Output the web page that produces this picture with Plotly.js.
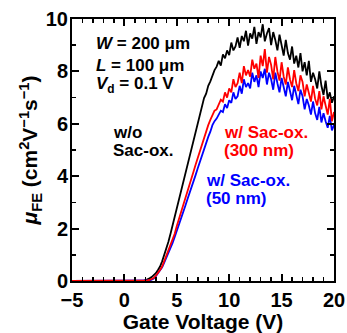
<!DOCTYPE html>
<html>
<head>
<meta charset="utf-8">
<script src="https://cdn.plot.ly/plotly-3.0.1.min.js"></script>
<style>html,body{margin:0;padding:0;background:#fff;}#chart{width:347px;height:333px;}</style>
</head>
<body>
<div id="chart"></div>
<script>
// Gate voltage sweep: -5 V to 20 V in 0.2 V steps (rows below = one volt each: x.0, x.2, x.4, x.6, x.8)
const sweepStart = -5;
const sweepStep = 0.2;

// μFE (cm²V⁻¹s⁻¹), w/o Sac-ox.
const muWithout = [
  0,0,0,0,0, 0,0,0,0,0, 0,0,0,0,0, 0,0,0,0,0, 0,0,0,0,0, 0,0,0,0,0, 0,0,0,0,0, // -5 .. 1.8
  0.03, 0.06, 0.10, 0.15, 0.22,   // 2
  0.30, 0.42, 0.55, 0.75, 0.98,   // 3
  1.22, 1.50, 1.80, 2.12, 2.50,   // 4
  2.85, 3.15, 3.45, 3.75, 4.10,   // 5
  4.40, 4.72, 5.05, 5.35, 5.70,   // 6
  6.00, 6.35, 6.60, 6.98, 7.15,   // 7
  7.45, 7.62, 7.88, 8.05, 8.18,   // 8
  8.40, 8.22, 8.65, 8.50, 8.80,   // 9
  8.62, 9.10, 8.80, 8.95, 9.30,   // 10
  8.90, 9.35, 9.15, 9.55, 8.98,   // 11
  9.45, 9.25, 9.70, 9.05, 9.50,   // 12
  9.30, 9.80, 9.15, 9.45, 9.65,   // 13
  9.00, 9.50, 9.20, 8.80, 9.40,   // 14
  8.95, 8.60, 9.20, 8.70, 8.45,   // 15
  8.95, 8.30, 8.60, 8.15, 8.70,   // 16
  8.00, 8.35, 7.85, 8.40, 7.60,   // 17
  7.95, 7.70, 7.35, 8.00, 7.45,   // 18
  7.10, 7.65, 6.95, 7.20, 6.80,   // 19
  7.05                            // 20
];

// μFE, w/ Sac-ox. (300 nm)
const muSac300 = [
  0,0,0,0,0, 0,0,0,0,0, 0,0,0,0,0, 0,0,0,0,0, 0,0,0,0,0, 0,0,0,0,0, 0,0,0,0,0,
  0.00, 0.02, 0.04, 0.07, 0.11,   // 2
  0.20, 0.30, 0.42, 0.55, 0.75,   // 3
  0.95, 1.15, 1.35, 1.55, 1.80,   // 4
  2.10, 2.35, 2.60, 2.88, 3.12,   // 5
  3.40, 3.65, 3.92, 4.18, 4.45,   // 6
  4.70, 4.98, 5.22, 5.50, 5.75,   // 7
  5.95, 6.15, 6.30, 6.50, 6.55,   // 8
  6.75, 6.92, 6.85, 7.20, 7.00,   // 9
  7.35, 7.20, 7.70, 7.40, 7.55,   // 10
  7.95, 7.55, 8.20, 7.85, 8.05,   // 11
  7.80, 8.45, 8.10, 8.30, 7.75,   // 12
  8.60, 8.20, 8.85, 7.95, 8.55,   // 13
  8.25, 7.70, 8.55, 8.00, 7.65,   // 14
  8.35, 7.80, 7.50, 8.15, 7.70,   // 15
  7.40, 8.05, 7.55, 7.25, 7.85,   // 16
  7.60, 7.05, 7.50, 7.20, 6.85,   // 17
  7.45, 6.95, 6.70, 7.25, 6.55,   // 18
  7.05, 6.70, 6.35, 6.95, 6.10,   // 19
  6.45                            // 20
];

// μFE, w/ Sac-ox. (50 nm)
const muSac50 = [
  0,0,0,0,0, 0,0,0,0,0, 0,0,0,0,0, 0,0,0,0,0, 0,0,0,0,0, 0,0,0,0,0, 0,0,0,0,0,
  0.00, 0.00, 0.02, 0.05, 0.09,   // 2
  0.18, 0.28, 0.40, 0.52, 0.70,   // 3
  0.88, 1.05, 1.25, 1.45, 1.68,   // 4
  1.90, 2.15, 2.40, 2.62, 2.85,   // 5
  3.10, 3.32, 3.58, 3.80, 4.05,   // 6
  4.30, 4.55, 4.80, 5.05, 5.25,   // 7
  5.50, 5.70, 5.95, 6.10, 6.20,   // 8
  6.35, 6.50, 6.45, 6.75, 6.60,   // 9
  6.90, 6.80, 7.20, 6.95, 7.05,   // 10
  7.45, 7.15, 7.70, 7.40, 7.55,   // 11
  7.35, 7.95, 7.60, 7.85, 7.40,   // 12
  8.00, 7.75, 8.10, 7.50, 7.95,   // 13
  7.70, 7.30, 7.95, 7.55, 7.20,   // 14
  7.75, 7.35, 7.05, 7.60, 7.25,   // 15
  6.90, 7.45, 7.05, 6.75, 7.30,   // 16
  7.05, 6.55, 6.95, 6.70, 6.35,   // 17
  6.85, 6.40, 6.15, 6.65, 6.05,   // 18
  6.40, 6.10, 5.85, 6.30, 5.75,   // 19
  5.95                            // 20
];

function sweep(n) {
  const xs = [];
  for (let i = 0; i < n; i++) xs.push(+(sweepStart + i * sweepStep).toFixed(2));
  return xs;
}

const FONT = 'Liberation Sans, Arial, Helvetica, sans-serif';

const traces = [
  {x: sweep(muWithout.length), y: muWithout, mode: 'lines', line: {color: '#000000', width: 1.8}, name: 'w/o Sac-ox.'},
  {x: sweep(muSac50.length), y: muSac50, mode: 'lines', line: {color: '#0000ff', width: 1.8}, name: 'w/ Sac-ox. (50 nm)'},
  {x: sweep(muSac300.length), y: muSac300, mode: 'lines', line: {color: '#ff0000', width: 1.8}, name: 'w/ Sac-ox. (300 nm)'}
];

function ann(text, x, y, color) {
  return {text: text, x: x, y: y, xref: 'x', yref: 'y', xanchor: 'left', yanchor: 'middle',
          showarrow: false, font: {family: FONT, size: 17, color: color, weight: 'bold'}};
}

const layout = {
  width: 347, height: 333,
  margin: {l: 72, r: 13, t: 19, b: 52},
  paper_bgcolor: '#ffffff', plot_bgcolor: '#ffffff',
  showlegend: false,
  font: {family: FONT, color: '#000', weight: 'bold'},
  xaxis: {
    range: [-5, 20], dtick: 5, tick0: 0,
    ticks: 'inside', ticklen: 7, tickwidth: 2, tickcolor: '#000',
    minor: {dtick: 1, ticks: 'inside', ticklen: 4, tickwidth: 1.5, tickcolor: '#000'},
    showline: true, linewidth: 2, linecolor: '#000', mirror: 'allticks',
    showgrid: false, zeroline: false,
    tickfont: {family: FONT, size: 20, color: '#000', weight: 'bold'},
    title: {text: 'Gate Voltage (V)', font: {family: FONT, size: 21, color: '#000', weight: 'bold'}, standoff: 6}
  },
  yaxis: {
    range: [0, 10], dtick: 2, tick0: 0,
    ticks: 'inside', ticklen: 7, tickwidth: 2, tickcolor: '#000',
    minor: {dtick: 1, ticks: 'inside', ticklen: 4, tickwidth: 1.5, tickcolor: '#000'},
    showline: true, linewidth: 2, linecolor: '#000', mirror: 'allticks',
    showgrid: false, zeroline: false,
    ticklabelstandoff: -2,
    tickfont: {family: FONT, size: 20, color: '#000', weight: 'bold'},
    title: {text: '<i>μ</i><sub>FE</sub> (cm<sup>2</sup>V<sup>−1</sup>s<sup>−1</sup>)', font: {family: FONT, size: 21, color: '#000', weight: 'bold'}, standoff: 2}
  },
  annotations: [
    ann('<i>W</i> = 200 μm', -2.9, 9.08, '#000'),
    ann('<i>L</i> = 100 μm', -2.9, 8.24, '#000'),
    ann('<i>V</i><sub>d</sub> = 0.1 V', -2.9, 7.48, '#000'),
    ann('w/o', -1.28, 5.67, '#000'),
    ann('Sac-ox.', -1.28, 4.99, '#000'),
    ann('w/ Sac-ox.', 9.3, 5.67, '#ff0000'),
    ann('(300 nm)', 9.3, 4.99, '#ff0000'),
    ann('w/ Sac-ox.', 7.6, 3.85, '#0000ff'),
    ann('(50 nm)', 7.6, 3.15, '#0000ff')
  ]
};

Plotly.newPlot('chart', traces, layout, {staticPlot: true, displayModeBar: false});
</script>
</body>
</html>
